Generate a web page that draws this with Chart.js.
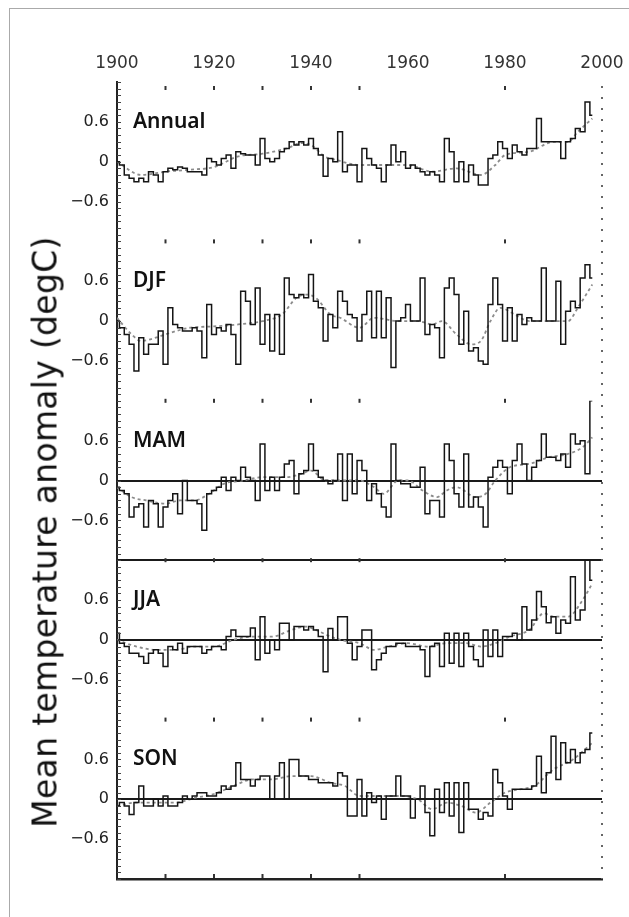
<!DOCTYPE html>
<html>
<head>
<meta charset="utf-8">
<script src="https://cdn.jsdelivr.net/npm/chart.js@4/dist/chart.umd.min.js"></script>
<style>
  html, body { margin: 0; padding: 0; background: #fff; }
  #wrap { position: relative; width: 629px; height: 917px; overflow: hidden; }
  #frame { position: absolute; left: 9px; top: 8px; right: 0; bottom: 0; border-left: 1px solid #aaa; border-top: 1px solid #aaa; }
  #ytitle { position: absolute; left: 45px; top: 532px; transform: translate(-50%, -50%) rotate(-90deg);
    font: 33px "DejaVu Sans"; letter-spacing: 0.3px; color: #111; white-space: nowrap; }
  canvas { position: absolute; left: 0; top: 0; }
</style>
</head>
<body>
<div id="wrap">
  <div id="frame"></div>
  <canvas id="chart" width="629" height="917"></canvas>
  <div id="ytitle">Mean temperature anomaly (degC)</div>
</div>
<script>
// yearly values, first one is 1900
const firstYear = 1900;

const annual = [
  0.0, -0.05, -0.2, -0.25, -0.3, -0.25, -0.3, -0.15, -0.2, -0.3,
  -0.15, -0.1, -0.12, -0.08, -0.1, -0.15, -0.15, -0.15, -0.2, 0.05,
  0.0, -0.05, 0.05, 0.1, -0.1, 0.15, 0.12, 0.1, 0.1, -0.05,
  0.35, 0.05, 0.0, 0.05, 0.15, 0.2, 0.3, 0.25, 0.3, 0.25,
  0.35, 0.2, 0.1, -0.22, 0.05, 0.0, 0.45, -0.15, -0.05, -0.05,
  -0.3, 0.2, 0.05, -0.05, -0.1, -0.3, -0.05, 0.25, 0.0, 0.15,
  -0.1, -0.05, -0.1, -0.15, -0.2, -0.15, -0.2, -0.3, 0.35, 0.15,
  -0.3, 0.0, -0.3, -0.05, -0.2, -0.35, -0.35, 0.05, 0.1, 0.3,
  0.2, 0.05, 0.25, 0.15, 0.1, 0.2, 0.2, 0.65, 0.3, 0.3,
  0.3, 0.3, 0.05, 0.3, 0.35, 0.5, 0.45, 0.9, 0.7
];
const djf = [
  0.0, -0.1, -0.2, -0.35, -0.75, -0.25, -0.5, -0.35, -0.35, -0.15,
  -0.65, 0.2, -0.05, -0.1, -0.15, -0.15, -0.1, -0.15, -0.55, 0.25,
  -0.2, -0.1, -0.15, -0.05, -0.2, -0.65, 0.45, 0.3, -0.05, 0.5,
  -0.35, 0.1, -0.45, 0.1, -0.5, 0.65, 0.4, 0.35, 0.4, 0.35,
  0.7, 0.3, 0.2, -0.3, 0.1, -0.1, 0.45, 0.3, 0.1, 0.05,
  -0.3, 0.1, 0.45, -0.25, 0.45, -0.25, 0.35, -0.7, 0.0, 0.05,
  0.25, 0.0, 0.0, 0.65, -0.2, -0.05, -0.1, -0.55, 0.5, 0.65,
  0.4, -0.35, 0.15, -0.45, -0.4, -0.6, -0.65, 0.25, 0.65, 0.25,
  -0.3, 0.2, -0.3, 0.1, -0.05, 0.05, 0.0, 0.0, 0.8, 0.0,
  0.0, 0.6, -0.35, 0.15, 0.3, 0.2, 0.65, 0.85, 0.65
];
const mam = [
  -0.1, -0.15, -0.2, -0.55, -0.4, -0.35, -0.7, -0.3, -0.35, -0.7,
  -0.4, -0.3, -0.2, -0.5, 0.0, -0.3, -0.3, -0.35, -0.75, -0.2,
  -0.15, -0.1, 0.05, -0.15, 0.05, 0.0, 0.2, 0.05, 0.0, -0.3,
  0.55, -0.15, 0.05, -0.15, 0.05, 0.25, 0.3, -0.2, 0.1, 0.15,
  0.55, 0.15, 0.05, 0.0, -0.05, 0.0, 0.4, -0.3, 0.4, -0.2,
  0.3, 0.15, -0.3, -0.05, -0.2, -0.4, -0.55, 0.55, 0.0, -0.05,
  -0.05, -0.1, -0.1, 0.2, -0.5, -0.3, -0.3, -0.55, 0.55, 0.3,
  -0.2, -0.4, 0.4, -0.4, -0.25, -0.4, -0.7, 0.05, 0.2, 0.3,
  0.2, -0.2, 0.3, 0.55, 0.25, 0.0, 0.2, 0.3, 0.7, 0.35,
  0.35, 0.3, 0.4, 0.2, 0.7, 0.55, 0.6, 0.1, 1.2
];
const jja = [
  0.1, -0.05, -0.1, -0.2, -0.2, -0.25, -0.35, -0.2, -0.15, -0.2,
  -0.4, -0.1, -0.15, -0.05, -0.2, -0.1, -0.1, -0.1, -0.2, -0.15,
  -0.1, -0.1, -0.15, 0.05, 0.15, 0.05, 0.05, 0.05, 0.18, -0.3,
  0.35, -0.2, 0.0, -0.15, 0.25, 0.25, 0.0, 0.2, 0.2, 0.15,
  0.2, 0.15, 0.05, -0.48, 0.17, 0.0, 0.35, 0.35, -0.05, -0.3,
  -0.1, 0.15, 0.15, -0.45, -0.3, -0.2, -0.1, -0.1, -0.05, -0.05,
  -0.1, -0.1, -0.1, -0.15, -0.55, -0.1, -0.05, -0.4, 0.1, -0.35,
  0.1, -0.4, 0.1, -0.1, -0.3, -0.4, 0.15, -0.25, 0.15, -0.25,
  0.05, 0.05, 0.1, 0.0, 0.5, 0.15, 0.3, 0.73, 0.5, 0.26,
  0.35, 0.1, 0.3, 0.25, 0.95, 0.3, 0.45, 1.2, 0.9
];
const son = [
  -0.1, -0.05, -0.1, -0.23, -0.05, 0.2, -0.1, -0.1, 0.0, -0.1,
  0.05, -0.1, -0.1, -0.05, 0.05, 0.0, 0.05, 0.1, 0.1, 0.05,
  0.05, 0.1, 0.2, 0.15, 0.2, 0.55, 0.3, 0.3, 0.2, 0.3,
  0.35, 0.35, 0.0, 0.35, 0.55, 0.0, 0.6, 0.6, 0.35, 0.35,
  0.3, 0.3, 0.25, 0.25, 0.25, 0.2, 0.4, 0.35, -0.25, -0.25,
  0.3, -0.25, 0.1, -0.05, 0.05, -0.3, 0.05, 0.05, 0.35, 0.05,
  0.05, -0.28, 0.0, 0.2, -0.2, -0.55, 0.15, -0.2, 0.25, -0.25,
  0.25, -0.5, 0.25, -0.15, -0.15, -0.3, -0.2, -0.25, 0.45, 0.25,
  0.05, -0.15, 0.15, 0.15, 0.15, 0.15, 0.2, 0.65, 0.1, 0.4,
  0.95, 0.3, 0.85, 0.55, 0.75, 0.55, 0.7, 0.75, 1.0
];

// smoothed curves, [year, value]
const annualSmooth = [[1900, 0.0], [1905, -0.2], [1910, -0.15], [1915, -0.12], [1920, -0.08], [1925, 0.08],
  [1930, 0.12], [1935, 0.2], [1938, 0.28], [1940, 0.25], [1943, 0.07], [1945, 0.03], [1950, -0.05],
  [1955, -0.05], [1960, -0.05], [1965, -0.15], [1970, -0.1], [1975, -0.2], [1978, -0.05], [1980, 0.1],
  [1985, 0.15], [1990, 0.3], [1993, 0.3], [1995, 0.45], [1998, 0.65]];
const djfSmooth = [[1900, 0.05], [1903, -0.2], [1905, -0.3], [1908, -0.25], [1910, -0.2], [1915, -0.1],
  [1920, -0.08], [1925, -0.05], [1930, 0.0], [1934, 0.1], [1937, 0.35], [1939, 0.4], [1941, 0.35],
  [1944, 0.1], [1946, 0.05], [1950, -0.1], [1953, 0.05], [1958, 0.0], [1962, 0.0], [1965, -0.05],
  [1967, 0.0], [1970, -0.2], [1973, -0.35], [1975, -0.3], [1977, 0.0], [1979, 0.2], [1982, 0.1],
  [1985, 0.0], [1990, 0.0], [1993, 0.0], [1995, 0.2], [1998, 0.55]];
const mamSmooth = [[1900, -0.1], [1903, -0.25], [1906, -0.3], [1910, -0.35], [1913, -0.3], [1916, -0.3],
  [1919, -0.2], [1922, -0.05], [1926, 0.0], [1930, 0.05], [1935, 0.05], [1938, 0.1], [1940, 0.15],
  [1943, 0.0], [1946, 0.0], [1950, 0.0], [1953, -0.1], [1955, -0.2], [1958, 0.0], [1960, 0.0],
  [1963, -0.15], [1966, -0.25], [1968, -0.15], [1970, -0.1], [1974, -0.25], [1976, -0.2], [1978, 0.0],
  [1981, 0.2], [1985, 0.25], [1989, 0.35], [1993, 0.4], [1996, 0.5], [1998, 0.65]];
const jjaSmooth = [[1900, 0.0], [1904, -0.1], [1908, -0.15], [1912, -0.15], [1916, -0.1], [1920, -0.1],
  [1924, 0.0], [1928, 0.05], [1932, 0.05], [1936, 0.15], [1939, 0.2], [1941, 0.15], [1944, 0.05],
  [1946, 0.0], [1950, -0.05], [1953, -0.15], [1956, -0.1], [1960, -0.05], [1964, -0.1], [1968, -0.05],
  [1972, -0.05], [1975, -0.1], [1978, -0.05], [1981, 0.05], [1985, 0.15], [1988, 0.4], [1990, 0.35],
  [1993, 0.35], [1996, 0.6], [1998, 0.85]];
const sonSmooth = [[1900, -0.1], [1904, -0.05], [1908, -0.05], [1912, -0.05], [1916, 0.02], [1920, 0.08],
  [1924, 0.2], [1928, 0.3], [1932, 0.3], [1936, 0.35], [1940, 0.35], [1944, 0.25], [1947, 0.2],
  [1950, 0.05], [1954, 0.05], [1958, 0.05], [1962, 0.0], [1965, -0.15], [1968, -0.05], [1971, -0.1],
  [1974, -0.2], [1977, -0.05], [1980, 0.1], [1983, 0.15], [1986, 0.2], [1990, 0.45], [1994, 0.6],
  [1998, 0.85]];

const panelNames = ["Annual", "DJF", "MAM", "JJA", "SON"];
const panelIds = ["yAnn", "yDjf", "yMam", "yJja", "ySon"];
const yearly = [annual, djf, mam, jja, son];
const smooth = [annualSmooth, djfSmooth, mamSmooth, jjaSmooth, sonSmooth];
const zeroLinePanels = ["yMam", "yJja", "ySon"];
const yTickLabels = { "0.6": "0.6", "0": "0", "-0.6": "\u22120.6" };
const xTickLabels = [1900, 1920, 1940, 1960, 1980, 2000];
const decadeMarks = [1910, 1920, 1930, 1940, 1950, 1980];

const near = (a, b) => Math.abs(a - b) < 1e-6;

const datasets = [];
panelIds.forEach((id, i) => {
  datasets.push({
    data: smooth[i].map((p) => ({ x: p[0], y: p[1] })),
    yAxisID: id,
    xAxisID: "x",
    borderColor: "#8c8c8c",
    borderWidth: 1.8,
    borderDash: [3, 3],
    cubicInterpolationMode: "monotone",
    pointRadius: 0,
    order: 2,
  });
  datasets.push({
    data: yearly[i].map((v, k) => ({ x: firstYear + k, y: v })),
    yAxisID: id,
    xAxisID: "x",
    borderColor: "#151515",
    borderWidth: 1.5,
    stepped: "middle",
    pointRadius: 0,
    order: 1,
  });
});

const panelScale = (id, i) => ({
  type: "linear",
  position: "left",
  stack: "panels",
  stackWeight: 1,
  weight: 5 - i,
  min: -1.2,
  max: 1.2,
  border: { color: "#222", width: 2 },
  grid: {
    color: (c) => {
      const v = c.tick ? c.tick.value : NaN;
      if (zeroLinePanels.includes(id) && near(v, 0)) return "#1a1a1a";
      if (id === "yJja" && near(v, 1.2)) return "#1a1a1a";
      return "rgba(0,0,0,0)";
    },
    lineWidth: 2,
    drawTicks: false,
  },
  ticks: {
    stepSize: 0.1,
    autoSkip: false,
    padding: 8,
    color: "#222",
    font: { family: "DejaVu Sans", size: 16 },
    callback: (v) => {
      for (const k in yTickLabels) {
        if (near(v, Number(k))) return yTickLabels[k];
      }
      return "";
    },
  },
  afterFit: (s) => { s.width = 117; },
});

const scales = {
  x: {
    type: "linear",
    position: "top",
    min: 1900,
    max: 2000,
    border: { display: false },
    grid: { display: false },
    afterBuildTicks: (s) => { s.ticks = xTickLabels.map((v) => ({ value: v })); },
    ticks: {
      color: "#333",
      padding: 0,
      maxRotation: 0,
      font: { family: "DejaVu Sans", size: 17 },
      callback: (v) => String(v),
    },
    afterFit: (s) => { s.height = 82; },
  },
  x2: {
    type: "linear",
    position: "bottom",
    min: 1900,
    max: 2000,
    border: { color: "#222", width: 2.5 },
    grid: { display: false },
    ticks: { display: false },
    afterFit: (s) => { s.height = 38; },
  },
};
panelIds.forEach((id, i) => { scales[id] = panelScale(id, i); });

const decor = {
  id: "decor",
  afterDatasetsDraw(chart) {
    const { ctx, chartArea, scales: sc } = chart;
    const xs = sc.x;
    ctx.save();
    // minor ticks on the inner side of the left axis
    ctx.strokeStyle = "#444";
    ctx.lineWidth = 1;
    panelIds.forEach((id) => {
      sc[id].ticks.forEach((t) => {
        const py = Math.round(sc[id].getPixelForValue(t.value)) + 0.5;
        ctx.beginPath();
        ctx.moveTo(chartArea.left, py);
        ctx.lineTo(chartArea.left + 4, py);
        ctx.stroke();
      });
    });
    // dotted line at 2000
    const xr = xs.getPixelForValue(2000);
    ctx.strokeStyle = "#666";
    ctx.lineWidth = 2;
    ctx.setLineDash([2, 9]);
    ctx.beginPath();
    ctx.moveTo(xr, chartArea.top + 4);
    ctx.lineTo(xr, chartArea.bottom);
    ctx.stroke();
    ctx.setLineDash([]);
    // decade marks on panel edges
    ctx.fillStyle = "#333";
    const edges = panelIds.map((id) => sc[id].top).concat(chartArea.bottom);
    edges.forEach((ey, i) => {
      decadeMarks.forEach((yr) => {
        const px = xs.getPixelForValue(yr);
        const top = i === 0 ? ey + 4 : i === edges.length - 1 ? ey - 5 : ey - 2;
        ctx.fillRect(px - 1, top, 2, 4);
      });
    });
    // panel names
    ctx.font = '600 21px "Noto Sans"';
    ctx.fillStyle = "#111";
    ctx.textBaseline = "middle";
    panelIds.forEach((id, i) => {
      ctx.fillText(panelNames[i], chartArea.left + 16, sc[id].getPixelForValue(0.6));
    });
    ctx.restore();
  },
};

new Chart(document.getElementById("chart"), {
  type: "line",
  data: { datasets },
  options: {
    responsive: false,
    animation: false,
    devicePixelRatio: 1,
    layout: { padding: { left: 0, top: 0, right: 27, bottom: 0 } },
    plugins: { legend: { display: false }, tooltip: { enabled: false } },
    scales,
  },
  plugins: [decor],
});
</script>
</body>
</html>
